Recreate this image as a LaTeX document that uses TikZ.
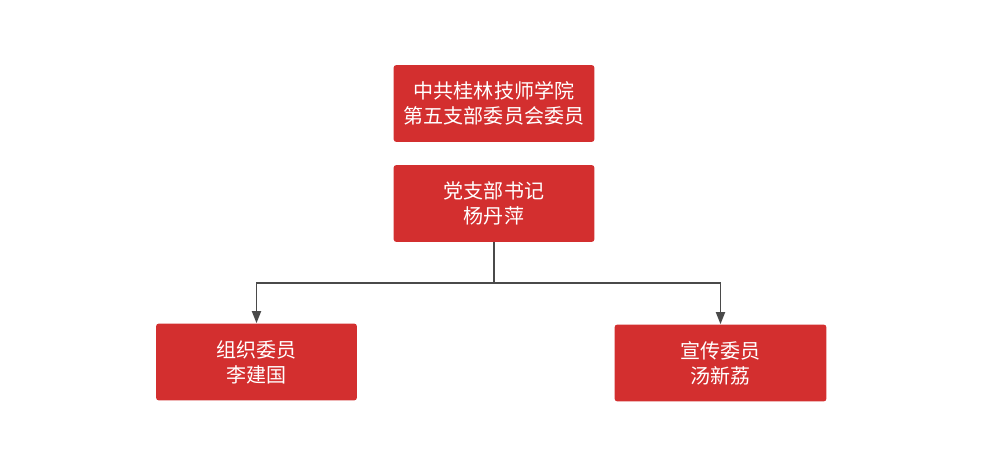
\documentclass[tikz,border=0pt]{standalone}
\usepackage{fontspec}
\newfontfamily\cjk{Noto Sans CJK SC}
\usetikzlibrary{arrows.meta}
\definecolor{boxred}{HTML}{D32F2F}
\definecolor{linkgray}{HTML}{4A4A4A}
\tikzset{
	member/.style={fill=boxred, rounded corners=0.06cm, text=white, align=center, inner sep=0pt,
		minimum width=4.02cm, minimum height=1.54cm, font=\cjk\fontsize{11.4}{14.3}\selectfont},
	link/.style={draw=linkgray, line width=0.035cm},
}

\begin{document}
\begin{tikzpicture}[x=0.02cm, y=-0.02cm]
			%%%%% START %%%%%
			\useasboundingbox (0, 0) rectangle (992, 469);
			
			\node[member] (committee) at (494, 103.5) {中共桂林技师学院\\第五支部委员会委员};
			\node[member] (secretary) at (494, 203.5) {党支部书记\\杨丹萍};
			
			\node[member] (organizer) at (256.5, 362) {组织委员\\李建国};
			\node[member, minimum width=4.24cm] (publicity) at (720.5, 363) {宣传委员\\汤新荔};
			
			\coordinate (split) at (494, 283);
			\draw[link] (secretary.south) -- (split);
			\draw[link, -{Triangle[length=0.24cm, width=0.18cm]}] (split) -| (organizer.north);
			\draw[link, -{Triangle[length=0.24cm, width=0.18cm]}] (split) -| (publicity.north);
			%%%%% END %%%%%
		\end{tikzpicture}
\end{document}
